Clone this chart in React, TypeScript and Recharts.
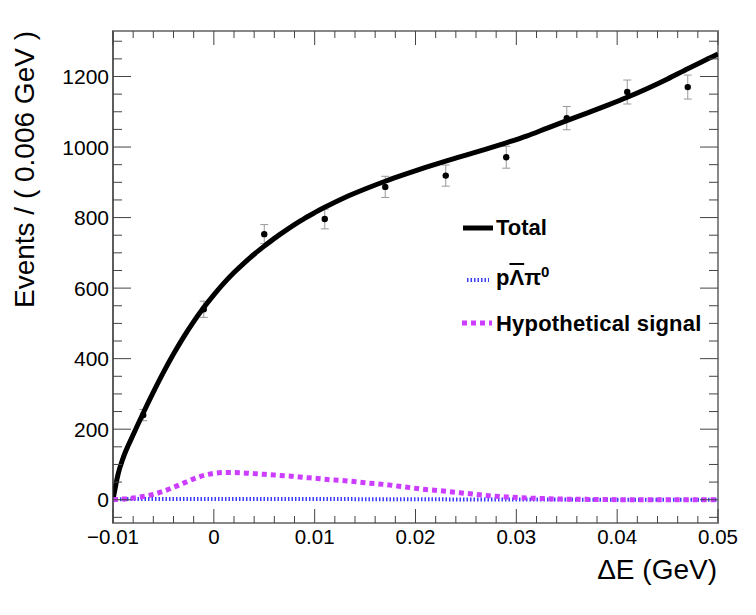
import React from "react";
import {
  ComposedChart,
  Line,
  Scatter,
  ErrorBar,
  XAxis,
  YAxis,
  ReferenceArea,
  Legend,
} from "recharts";

// fit curves, sampled on a common ΔE grid (GeV)
const curveX = [
  -0.01, -0.0095, -0.009, -0.008, -0.007, -0.006, -0.005, -0.004, -0.003, -0.002, -0.001,
  0, 0.001, 0.002, 0.003, 0.004, 0.005, 0.006, 0.007, 0.008, 0.009, 0.01, 0.011,
  0.013, 0.015, 0.017, 0.019, 0.021, 0.023, 0.025, 0.027, 0.029, 0.031, 0.033, 0.035,
  0.037, 0.039, 0.041, 0.043, 0.045, 0.047, 0.049, 0.05,
];
const totalY = [
  0, 72, 118, 184, 246, 305, 361, 413, 461, 505, 545,
  581, 614, 644, 671, 696, 719, 741, 761, 780, 798, 814, 829,
  857, 881, 903, 923, 942, 960, 977, 994, 1012, 1031, 1053, 1075,
  1096, 1118, 1141, 1166, 1193, 1222, 1250, 1264,
];
const signalY = [
  0, 1, 2, 5, 9, 15, 24, 35, 47, 59, 69,
  75, 77, 77, 76, 74, 72, 70, 68, 66, 63, 61, 58,
  54, 48, 43, 36, 29, 24, 18, 12, 8, 5, 3, 1.5,
  1, 0.5, 0, 0, 0, 0, 0, 0,
];
const bkgY = [
  0, 1, 1.5, 2, 2, 2, 2, 2, 2, 2, 2,
  2, 2, 2, 2, 2, 2, 2, 2, 2, 2, 2, 2,
  1.8, 1.6, 1.5, 1.4, 1.2, 1, 0.8, 0.6, 0.5, 0.4, 0.3, 0.3,
  0.2, 0.2, 0.2, 0.1, 0.1, 0.1, 0.1, 0.1,
];

// data histogram (bin width 0.006 GeV)
const binCenters = [-0.007, -0.001, 0.005, 0.011, 0.017, 0.023, 0.029, 0.035, 0.041, 0.047];
const binCounts = [240, 540, 753, 796, 887, 919, 971, 1082, 1156, 1170];
const binErrors = [16, 23, 27, 28, 30, 30, 31, 33, 34, 34];

const xMajorTicks = [-0.01, 0, 0.01, 0.02, 0.03, 0.04, 0.05];
const yMajorTicks = [0, 200, 400, 600, 800, 1000, 1200];
const xMinorTicks = Array.from({ length: 31 }, (_, i) => Math.round((-0.01 + i * 0.002) * 1e4) / 1e4);
const yMinorTicks = Array.from({ length: 28 }, (_, i) => -50 + i * 50);

const X_DOMAIN: [number, number] = [-0.01, 0.05];
const Y_DOMAIN: [number, number] = [-66, 1329];

const W = 756;
const H = 615;
const PLOT_LEFT = 113;
const PLOT_RIGHT = 718;
const PLOT_TOP = 31;
const PLOT_BOTTOM = 523;

const FONT = '"Liberation Sans", Arial, Helvetica, sans-serif';
const TICK_COLOR = "#444";

const totalData = curveX.map((x, i) => ({ x, y: totalY[i] }));
const signalData = curveX.map((x, i) => ({ x, y: signalY[i] }));
const bkgData = curveX.map((x, i) => ({ x, y: bkgY[i] }));
const pointData = binCenters.map((x, i) => ({ x, y: binCounts[i], err: binErrors[i] }));

function fmtX(v: number) {
  if (v === 0) return "0";
  return v < 0 ? "\u2212" + String(Math.abs(v)) : String(v);
}

function XTick(props: any) {
  const { x, payload } = props;
  const v = payload.value as number;
  const major = xMajorTicks.some((t) => Math.abs(t - v) < 1e-9);
  const len = major ? 14 : 7;
  return (
    <g>
      <line x1={x} x2={x} y1={PLOT_BOTTOM} y2={PLOT_BOTTOM - len} stroke={TICK_COLOR} strokeWidth={1} />
      <line x1={x} x2={x} y1={PLOT_TOP} y2={PLOT_TOP + len} stroke={TICK_COLOR} strokeWidth={1} />
      {major && (
        <text x={x} y={544} textAnchor="middle" fontFamily={FONT} fontSize={20.5} fill="#000">
          {fmtX(v)}
        </text>
      )}
    </g>
  );
}

function YTick(props: any) {
  const { y, payload } = props;
  const v = payload.value as number;
  const major = yMajorTicks.includes(v);
  const len = major ? 18 : 9;
  return (
    <g>
      <line x1={PLOT_LEFT} x2={PLOT_LEFT + len} y1={y} y2={y} stroke={TICK_COLOR} strokeWidth={1} />
      <line x1={PLOT_RIGHT} x2={PLOT_RIGHT - len} y1={y} y2={y} stroke={TICK_COLOR} strokeWidth={1} />
      {major && (
        <text x={109} y={y + 7.5} textAnchor="end" fontFamily={FONT} fontSize={21} fill="#000">
          {v}
        </text>
      )}
    </g>
  );
}

function LegendBox() {
  const rowStyle: React.CSSProperties = {
    position: "absolute",
    left: 0,
    height: 26,
    lineHeight: "26px",
    display: "flex",
    alignItems: "center",
    whiteSpace: "nowrap",
  };
  const textStyle: React.CSSProperties = {
    fontFamily: FONT,
    fontWeight: "bold",
    fontSize: 22,
    color: "#000",
    marginLeft: 3,
  };
  return (
    <div style={{ position: "relative", width: 280, height: 150 }}>
      <div style={{ ...rowStyle, top: 15 }}>
        <svg width={31} height={26}>
          <line x1={1} x2={31} y1={13} y2={13} stroke="#000" strokeWidth={5} />
        </svg>
        <span style={textStyle}>Total</span>
      </div>
      <div style={{ ...rowStyle, top: 65 }}>
        <svg width={31} height={26}>
          <line x1={5} x2={27} y1={15} y2={15} stroke="#3b3bff" strokeWidth={4} strokeDasharray="1.5 2" />
        </svg>
        <span style={textStyle}>
          p<span style={{ textDecoration: "overline" }}>Λ</span>π
          <span style={{ fontSize: 15, lineHeight: 1, position: "relative", top: -8 }}>0</span>
        </span>
      </div>
      <div style={{ ...rowStyle, top: 111 }}>
        <svg width={31} height={26}>
          <line x1={0} x2={30} y1={12} y2={12} stroke="#cc3dff" strokeWidth={5} strokeDasharray="5 4" />
        </svg>
        <span style={{ ...textStyle, letterSpacing: 0.2 }}>Hypothetical signal</span>
      </div>
    </div>
  );
}

export default function App() {
  return (
    <div style={{ position: "absolute", left: 0, top: 0, width: W, height: H, background: "#fff" }}>
      <ComposedChart
        width={W}
        height={H}
        margin={{ top: PLOT_TOP, right: W - PLOT_RIGHT, bottom: 32, left: 53 }}
      >
        <XAxis
          type="number"
          dataKey="x"
          domain={X_DOMAIN}
          allowDataOverflow
          ticks={xMinorTicks}
          interval={0}
          height={60}
          axisLine={false}
          tickLine={false}
          tick={<XTick />}
          label={() => (
            <text x={717} y={579} textAnchor="end" fontFamily={FONT} fontSize={28} fill="#000">
              ΔE (GeV)
            </text>
          )}
        />
        <YAxis
          type="number"
          domain={Y_DOMAIN}
          allowDataOverflow
          ticks={yMinorTicks}
          interval={0}
          width={60}
          axisLine={{ stroke: "#333", strokeWidth: 1 }}
          tickLine={false}
          tick={<YTick />}
          label={() => (
            <text
              x={34}
              y={31}
              transform="rotate(-90, 34, 31)"
              textAnchor="end"
              fontFamily={FONT}
              fontSize={28}
              fill="#000"
            >
              Events / ( 0.006 GeV )
            </text>
          )}
        />
        <ReferenceArea
          x1={X_DOMAIN[0]}
          x2={X_DOMAIN[1]}
          y1={Y_DOMAIN[0]}
          y2={Y_DOMAIN[1]}
          fill="none"
          stroke="#888"
          strokeWidth={2}
        />
        <Scatter
          data={pointData}
          dataKey="y"
          isAnimationActive={false}
          shape={(p: any) => <circle cx={p.cx} cy={p.cy} r={3.2} fill="#000" />}
        >
          <ErrorBar dataKey="err" direction="y" width={4} strokeWidth={1} stroke="#999" />
        </Scatter>
        <Line
          data={totalData}
          dataKey="y"
          type="monotone"
          stroke="#000"
          strokeWidth={5}
          dot={false}
          isAnimationActive={false}
        />
        <Line
          data={bkgData}
          dataKey="y"
          type="monotone"
          stroke="#3b3bff"
          strokeWidth={4}
          strokeDasharray="1.5 2"
          dot={false}
          isAnimationActive={false}
        />
        <Line
          data={signalData}
          dataKey="y"
          type="monotone"
          stroke="#cc3dff"
          strokeWidth={5}
          strokeDasharray="5 4"
          dot={false}
          isAnimationActive={false}
        />
        <Legend
          layout="horizontal"
          verticalAlign="middle"
          align="center"
          wrapperStyle={{ left: 462, top: 200, width: 280, height: 150 }}
          content={() => <LegendBox />}
        />
      </ComposedChart>
    </div>
  );
}
